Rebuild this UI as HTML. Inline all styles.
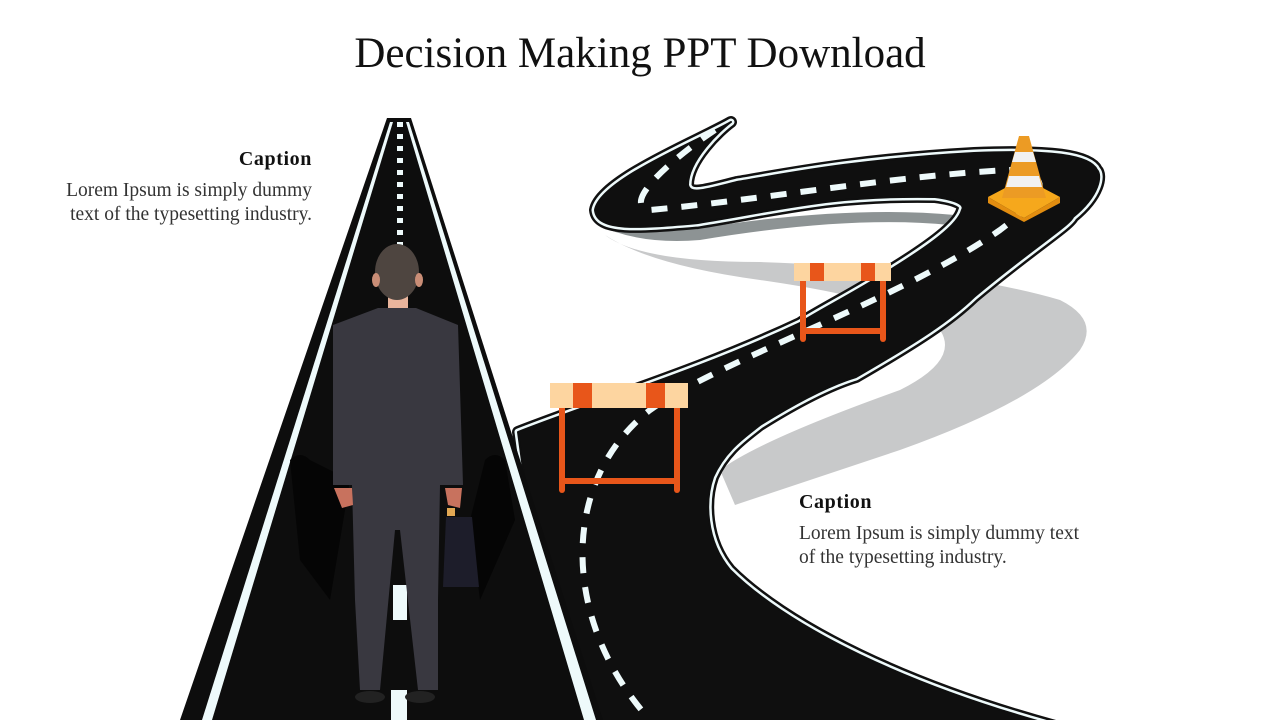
<!DOCTYPE html>
<html><head><meta charset="utf-8"><style>
html,body{margin:0;padding:0;background:#fff;}
body{width:1280px;height:720px;position:relative;overflow:hidden;font-family:"Liberation Serif",serif;}
.t{position:absolute;color:#111;}
</style></head><body>
<svg width="1280" height="720" style="position:absolute;left:0;top:0">
<path d="M605 235 Q640 262 760 262 Q950 268 1060 300 Q1100 320 1080 350 Q1040 400 900 450 Q780 490 735 505 L720 470 Q760 440 900 390 Q960 360 940 330 Q900 300 760 280 Q650 265 605 235Z" fill="#c8c9ca"/>
<path d="M598 225 Q640 245 700 240 Q850 215 950 225 L955 215 Q850 205 700 228 Q640 236 598 215Z" fill="#8d9394"/>
<path d="M731 122 C700 140 600 180 595 210 C597 232 640 228 698 223 C780 210 830 195 935 197 C958 200 965 205 962 210 C958 225 930 245 895 267 C860 290 820 310 800 323 C700 370 600 400 518 432 L560 740 L1110 740 C900 690 780 620 730 570 C705 540 705 500 713 477 C725 450 745 437 760 425 C800 400 830 385 856 377 C920 340 950 320 974 297 C1030 250 1070 225 1073 217 C1100 195 1102 175 1097 170 C1090 155 1050 150 974 153 C850 160 780 175 737 182 C705 190 690 195 688 185 C688 160 720 130 731 122Z" fill="#111" stroke="#111" stroke-width="12" stroke-linejoin="round"/>
<path d="M731 122 C700 140 600 180 595 210 C597 232 640 228 698 223 C780 210 830 195 935 197 C958 200 965 205 962 210 C958 225 930 245 895 267 C860 290 820 310 800 323 C700 370 600 400 518 432 L560 740 L1110 740 C900 690 780 620 730 570 C705 540 705 500 713 477 C725 450 745 437 760 425 C800 400 830 385 856 377 C920 340 950 320 974 297 C1030 250 1070 225 1073 217 C1100 195 1102 175 1097 170 C1090 155 1050 150 974 153 C850 160 780 175 737 182 C705 190 690 195 688 185 C688 160 720 130 731 122Z" fill="none" stroke="#eefafb" stroke-width="7" stroke-linejoin="round"/>
<path d="M731 122 C700 140 600 180 595 210 C597 232 640 228 698 223 C780 210 830 195 935 197 C958 200 965 205 962 210 C958 225 930 245 895 267 C860 290 820 310 800 323 C700 370 600 400 518 432 L560 740 L1110 740 C900 690 780 620 730 570 C705 540 705 500 713 477 C725 450 745 437 760 425 C800 400 830 385 856 377 C920 340 950 320 974 297 C1030 250 1070 225 1073 217 C1100 195 1102 175 1097 170 C1090 155 1050 150 974 153 C850 160 780 175 737 182 C705 190 690 195 688 185 C688 160 720 130 731 122Z" fill="#0f0f0f" stroke="#0f0f0f" stroke-width="2" stroke-linejoin="round"/>
<path d="M715 130 C670 160 620 205 650 210 C760 200 900 175 1010 170 C1060 175 1040 200 1000 230 C900 300 720 360 650 410 C560 480 560 620 650 720" fill="none" stroke="#eefafb" stroke-width="6" stroke-dasharray="16 14"/>
<polygon points="387,118 411,118 603,720 180,720" fill="#0d0d0d"/>
<polygon points="390,122 393,122 212,720 202,720" fill="#eefafb"/>
<polygon points="406,122 409,122 596,720 584,720" fill="#eefafb"/>
<line x1="400" y1="122" x2="400" y2="335" stroke="#eefafb" stroke-width="6" stroke-dasharray="5 7"/>
<rect x="393" y="585" width="14" height="35" fill="#eefafb"/>
<rect x="391" y="690" width="16" height="30" fill="#eefafb"/>
<path d="M290 460 Q300 450 310 460 L350 480 L330 600 L300 560Z" fill="#050505"/>
<path d="M505 460 Q495 450 485 460 L470 520 L480 600 L515 520Z" fill="#050505"/>
<g>
<rect x="388" y="290" width="20" height="22" fill="#e9b49c"/>
<ellipse cx="397" cy="272" rx="22" ry="28" fill="#4e4540"/>
<ellipse cx="376" cy="280" rx="4" ry="7" fill="#c98d76"/>
<ellipse cx="419" cy="280" rx="4" ry="7" fill="#c98d76"/>
<path d="M378 308 L416 308 L458 325 L463 485 L440 485 L438 600 L438 690 L418 690 L400 530 L395 530 L380 690 L360 690 L355 600 L352 485 L333 485 L333 325Z" fill="#393840"/>
<ellipse cx="370" cy="697" rx="15" ry="6" fill="#222"/>
<ellipse cx="420" cy="697" rx="15" ry="6" fill="#222"/>
<path d="M334 488 L352 488 L353 505 L342 508Z" fill="#c8725e"/>
<path d="M445 488 L462 488 L460 508 L448 505Z" fill="#c8725e"/>
<path d="M446 517 L472 517 L479 587 L443 587Z" fill="#1d1d2a"/>
<rect x="447" y="508" width="8" height="8" fill="#e2a854"/>
</g>
<g stroke="#e8561a" stroke-width="6" stroke-linecap="round">
<line x1="562" y1="405" x2="562" y2="490"/><line x1="677" y1="405" x2="677" y2="490"/><line x1="562" y1="481" x2="677" y2="481"/>
<line x1="803" y1="278" x2="803" y2="339"/><line x1="883" y1="278" x2="883" y2="339"/><line x1="803" y1="331" x2="883" y2="331"/>
</g>
<rect x="550" y="383" width="138" height="25" fill="#fdd5a0"/>
<rect x="573" y="383" width="19" height="25" fill="#e8561a"/>
<rect x="646" y="383" width="19" height="25" fill="#e8561a"/>
<rect x="794" y="263" width="97" height="18" fill="#fdd5a0"/>
<rect x="810" y="263" width="14" height="18" fill="#e8561a"/>
<rect x="861" y="263" width="14" height="18" fill="#e8561a"/>
<polygon points="988,197 1024,178 1060,197 1024,218" fill="#f6a81c"/>
<polygon points="988,197 1024,218 1060,197 1060,203 1024,222 988,203" fill="#e28d10"/>
<polygon points="1019,136 1029,136 1046,198 1002,198" fill="#ec9b24"/>
<polygon points="1015,152 1033,152 1036,162 1012,162" fill="#f1f1f1"/>
<polygon points="1009,176 1039,176 1042,187 1006,187" fill="#f1f1f1"/>
</svg>
<div class="t" style="left:0;width:1280px;top:29px;text-align:center;font-size:43px;">Decision Making PPT Download</div>
<div class="t" style="right:968px;top:148px;font-size:20px;letter-spacing:0.6px;font-weight:bold;text-align:right;">Caption</div>
<div class="t" style="right:968px;top:179px;font-size:19.5px;line-height:24px;text-align:right;color:#333;white-space:nowrap;">Lorem Ipsum is simply dummy<br>text of the typesetting industry.</div>
<div class="t" style="left:799px;top:491px;font-size:20px;letter-spacing:0.6px;font-weight:bold;">Caption</div>
<div class="t" style="left:799px;top:522px;font-size:19.5px;line-height:24px;color:#333;white-space:nowrap;">Lorem Ipsum is simply dummy text<br>of the typesetting industry.</div>
</body></html>
